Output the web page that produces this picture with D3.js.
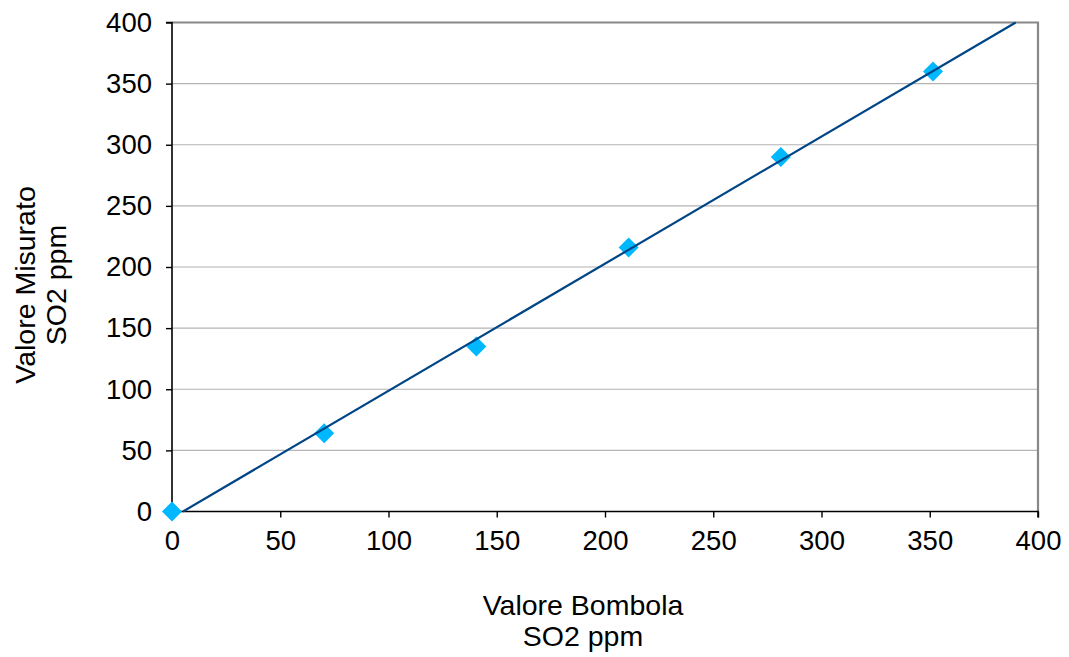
<!DOCTYPE html>
<html>
<head>
<meta charset="utf-8">
<script src="https://cdn.jsdelivr.net/npm/d3@7"></script>
<style>
  body { margin: 0; background: #fff; }
  svg text { font-family: "Liberation Sans", Arial, sans-serif; fill: #000; }
</style>
</head>
<body>
<svg id="chart" width="1069" height="657"></svg>
<script>
// data
var valoreBombola = [0, 70.3, 140.6, 210.9, 281.2, 351.5];
var valoreMisurato = [0, 64, 135, 216, 290, 360];
var xTicks = [0, 50, 100, 150, 200, 250, 300, 350, 400];
var yTicks = [0, 50, 100, 150, 200, 250, 300, 350, 400];

var svg = d3.select("#chart");
var pLeft = 172, pRight = 1038, pTop = 22.5, pBottom = 511.5;

var x = d3.scaleLinear().domain([0, 400]).range([pLeft, pRight]);
var y = d3.scaleLinear().domain([0, 400]).range([pBottom, pTop]);

// gridlines
svg.append("g").selectAll("line")
   .data(yTicks.filter(function(d) { return d > 0 && d < 400; }))
   .enter().append("line")
   .attr("x1", pLeft).attr("x2", pRight)
   .attr("y1", function(d) { return y(d); })
   .attr("y2", function(d) { return y(d); })
   .attr("stroke", "#b3b3b3").attr("stroke-width", 1.2);

// top and right frame
svg.append("path")
   .attr("d", "M" + pLeft + "," + pTop + "H" + pRight + "V" + pBottom)
   .attr("fill", "none").attr("stroke", "#888").attr("stroke-width", 2.2);

// axes
var yAxis = d3.axisLeft(y).tickValues(yTicks).tickSize(6).tickPadding(14);
var xAxis = d3.axisBottom(x).tickValues(xTicks).tickSize(6).tickPadding(12);

var gy = svg.append("g").attr("transform", "translate(" + pLeft + ",0)").call(yAxis);
var gx = svg.append("g").attr("transform", "translate(0," + pBottom + ")").call(xAxis);

[gx, gy].forEach(function(g) {
  g.select(".domain").attr("stroke", "#000").attr("stroke-width", 1.6);
  g.selectAll(".tick line").attr("stroke", "#000").attr("stroke-width", 1.4);
  g.selectAll(".tick text").style("font-size", "27.5px")
   .attr("font-family", "Liberation Sans, Arial, sans-serif");
});
gx.select(".domain").attr("d", "M" + pLeft + ",6V0H" + pRight + "V6");
gy.select(".domain").attr("d", "M-6," + pTop + "H0V" + pBottom + "H-6");
gx.selectAll(".tick text").attr("dy", "0.75em");

// linear trendline (least squares)
var n = valoreBombola.length;
var mx = d3.mean(valoreBombola), my = d3.mean(valoreMisurato);
var sxy = 0, sxx = 0;
for (var i = 0; i < n; i++) {
  sxy += (valoreBombola[i] - mx) * (valoreMisurato[i] - my);
  sxx += (valoreBombola[i] - mx) * (valoreBombola[i] - mx);
}
var slope = sxy / sxx, intercept = my - slope * mx;
var x0 = -intercept / slope, x1 = (400 - intercept) / slope;

// points
svg.append("g").selectAll("path")
   .data(valoreBombola)
   .enter().append("path")
   .attr("transform", function(d, i) { return "translate(" + x(d) + "," + y(valoreMisurato[i]) + ")"; })
   .attr("d", "M0,-10L10,0L0,10L-10,0Z")
   .attr("fill", "#00b8ff");

svg.append("line")
   .attr("x1", x(x0)).attr("y1", y(0))
   .attr("x2", x(x1)).attr("y2", y(400))
   .attr("stroke", "#004586").attr("stroke-width", 2.2);

// axis titles
var xt = svg.append("text").attr("text-anchor", "middle").style("font-size", "28.5px");
xt.append("tspan").attr("x", 583).attr("y", 615).text("Valore Bombola");
xt.append("tspan").attr("x", 583).attr("y", 646).text("SO2 ppm");

var yt = svg.append("text").attr("text-anchor", "middle").style("font-size", "28.5px")
   .attr("transform", "translate(0,285) rotate(-90)");
yt.append("tspan").attr("x", 0).attr("y", 35).text("Valore Misurato");
yt.append("tspan").attr("x", 0).attr("y", 66).text("SO2 ppm");
</script>
</body>
</html>
